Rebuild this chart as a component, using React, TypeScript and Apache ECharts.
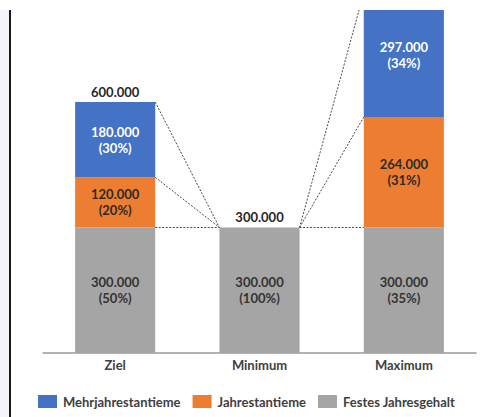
import React, { useEffect, useRef } from "react";
import * as echarts from "echarts";

const categories = ["Ziel", "Minimum", "Maximum"];
const festes = [300000, 300000, 300000];
const jahres = [120000, 0, 264000];
const mehr = [180000, 0, 297000];
const festesPct = [50, 100, 35];
const jahresPct = [20, null, 31];
const mehrPct = [30, null, 34];
const totals = [600000, 300000, 861000];
// [fromCategory, fromValue, toCategory, toValue]
const connectors = [
  [0, 600000, 1, 300000],
  [0, 420000, 1, 300000],
  [0, 300000, 1, 300000],
  [1, 300000, 2, 300000],
  [1, 300000, 2, 564000],
  [1, 300000, 2, 861000],
];

const fmt = (v: number) => String(v).replace(/\B(?=(\d{3})+(?!\d))/g, ".");
const FONT = "Lato";
const BAR_RATIO = 0.555;

export default function App() {
  const ref = useRef<HTMLDivElement>(null);
  useEffect(() => {
    const chart = echarts.init(ref.current!, null, { renderer: "svg" });
    const segLabel = (pcts: (number | null)[], color: string) => ({
      show: true,
      position: "inside",
      color,
      fontFamily: FONT,
      fontWeight: "bold",
      fontSize: 13,
      lineHeight: 16,
      formatter: (p: any) =>
        p.value && pcts[p.dataIndex] != null ? `${fmt(p.value)}\n(${pcts[p.dataIndex]}%)` : "",
    });
    chart.setOption({
      animation: false,
      backgroundColor: "#ffffff",
      grid: { left: 43, right: 6, top: 10, bottom: 64 },
      xAxis: {
        type: "category",
        data: categories,
        axisTick: { show: false },
        axisLine: { lineStyle: { color: "#9a9a9a", width: 1.5 } },
        axisLabel: { color: "#404040", fontFamily: FONT, fontWeight: "bold", fontSize: 13, margin: 5 },
      },
      yAxis: { type: "value", min: 0, max: 820000, show: false, splitLine: { show: false } },
      legend: {
        left: 33,
        top: 390,
        itemWidth: 19,
        itemHeight: 13,
        itemGap: 12,
        icon: "rect",
        data: ["Mehrjahrestantieme", "Jahrestantieme", "Festes Jahresgehalt"],
        textStyle: { color: "#404040", fontFamily: FONT, fontWeight: "bold", fontSize: 13, padding: [0, 0, 0, 1] },
      },
      series: [
        {
          name: "Festes Jahresgehalt",
          type: "bar",
          stack: "s",
          barWidth: `${BAR_RATIO * 100}%`,
          itemStyle: { color: "#a5a5a5" },
          label: segLabel(festesPct, "#333333"),
          data: festes,
        },
        {
          name: "Jahrestantieme",
          type: "bar",
          stack: "s",
          itemStyle: { color: "#ed7d31" },
          label: segLabel(jahresPct, "#2b2b2b"),
          data: jahres,
        },
        {
          name: "Mehrjahrestantieme",
          type: "bar",
          stack: "s",
          itemStyle: { color: "#4472c4" },
          label: segLabel(mehrPct, "#ffffff"),
          data: mehr.map((v, i) =>
            i === 2 ? { value: v, label: { offset: [0, -9] } } : v
          ),
        },
        {
          name: "Gesamt",
          type: "bar",
          stack: "s",
          itemStyle: { color: "transparent" },
          label: {
            show: true,
            position: "top",
            distance: 4,
            color: "#262626",
            fontFamily: FONT,
            fontWeight: "bold",
            fontSize: 13,
            formatter: (p: any) => fmt(totals[p.dataIndex]),
          },
          data: totals.map(() => 0),
        },
        {
          type: "custom",
          clip: true,
          silent: true,
          encode: { x: [0, 2], y: [1, 3] },
          data: connectors,
          renderItem: (params: any, api: any) => {
            const a = api.coord([api.value(0), api.value(1)]);
            const b = api.coord([api.value(2), api.value(3)]);
            const half = (api.size([1, 0])[0] * BAR_RATIO) / 2;
            return {
              type: "line",
              shape: { x1: a[0] + half, y1: a[1], x2: b[0] - half, y2: b[1] },
              style: { stroke: "#4a4a4a", lineWidth: 1, lineDash: [2, 1.5] },
              z2: 5,
            };
          },
        },
      ],
      graphic: [
        { type: "rect", z: 100, shape: { x: 0, y: 0, width: 482, height: 10 }, style: { fill: "#ffffff" } },
        { type: "rect", z: 100, shape: { x: 0, y: 10, width: 9, height: 407 }, style: { fill: "#f3f5fa" } },
        { type: "rect", z: 100, shape: { x: 9, y: 10, width: 2, height: 407 }, style: { fill: "#1a1a1a" } },
      ],
    });
    return () => chart.dispose();
  }, []);
  return (
    <div
      ref={ref}
      style={{ position: "fixed", left: 0, top: 0, width: 482, height: 417 }}
    />
  );
}
